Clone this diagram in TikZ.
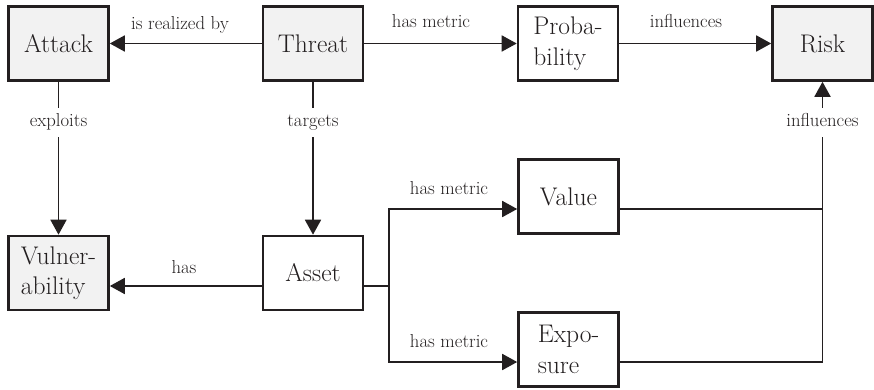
\documentclass[tikz,border=0pt]{standalone}
\usepackage{fontspec}
\usetikzlibrary{arrows.meta}
\definecolor{ink}{HTML}{231F20}
\definecolor{boxgray}{HTML}{F2F2F2}
\tikzset{
  x=1pt, y=1pt,
  box/.style={draw=ink, line width=2.6pt, minimum width=100pt, minimum height=74pt,
    inner sep=0pt, align=left, text=ink, font=\rmfamily\fontsize{25.5}{30.5}\selectfont},
  graybox/.style={box, fill=boxgray},
  whitebox/.style={box, fill=white},
  lbl/.style={text=ink, font=\rmfamily\fontsize{18.7}{22}\selectfont, inner sep=0pt, anchor=base},
  vlbl/.style={lbl, text height=13pt, text depth=4pt, inner ysep=6pt},
  wire/.style={draw=ink, line width=1.8pt},
  arr/.style={wire, -{Triangle[length=15pt,width=16pt]}}
}
\begin{document}
\begin{tikzpicture}
\useasboundingbox (0,0) rectangle (874,-390);

% concept boxes
\node[graybox]  (attack)   at (58.5,-43.5)  {Attack};
\node[graybox]  (threat)   at (313,-43.5)   {Threat};
\node[whitebox] (prob)     at (568,-43.5)   {Proba-\\bility};
\node[graybox]  (risk)     at (822.5,-43.5) {Risk};
\node[graybox]  (vuln)     at (58.5,-273)   {Vulner-\\ability};
\node[whitebox] (asset)    at (313,-273)    {Asset};
\node[whitebox] (value)    at (568.5,-196.5){Value};
\node[whitebox] (exposure) at (568.5,-349.5){Expo-\\sure};

% labels set into vertical connectors
\node[vlbl] (exploits) at (58.5,-127)  {exploits};
\node[vlbl] (targets)  at (313,-127)   {targets};
\node[vlbl] (inflR)    at (822.5,-127) {influences};

% top row
\draw[arr] (threat) -- (attack);
\node[lbl] at (180,-29.5) {is realized by};
\draw[arr] (threat) -- (prob);
\node[lbl] at (431,-28) {has metric};
\draw[arr] (prob) -- (risk);
\node[lbl] at (686,-28) {influences};

% vertical links
\draw[wire] (attack) -- (exploits);
\draw[arr]  (exploits) -- (vuln);
\draw[wire] (threat) -- (targets);
\draw[arr]  (targets) -- (asset);

% asset relations
\draw[arr] ([yshift=-13pt]asset.west) -- ([yshift=-13pt]vuln.east);
\node[lbl] at (184,-273) {has};

\coordinate (split) at (389,-286);
\draw[wire] ([yshift=-13pt]asset.east) -- (split);
\draw[arr] (split) |- ([yshift=-12.5pt]value.west);
\node[lbl] at (449,-194) {has metric};
\draw[arr] (split) |- ([yshift=-12.5pt]exposure.west);
\node[lbl] at (449,-347) {has metric};

% metrics feeding risk
\draw[wire] ([yshift=-12.5pt]value.east) -- ([yshift=-12.5pt]value.east -| risk);
\draw[wire] ([yshift=-12.5pt]exposure.east) -| (inflR);
\draw[arr]  (inflR) -- (risk);
\end{tikzpicture}
\end{document}
